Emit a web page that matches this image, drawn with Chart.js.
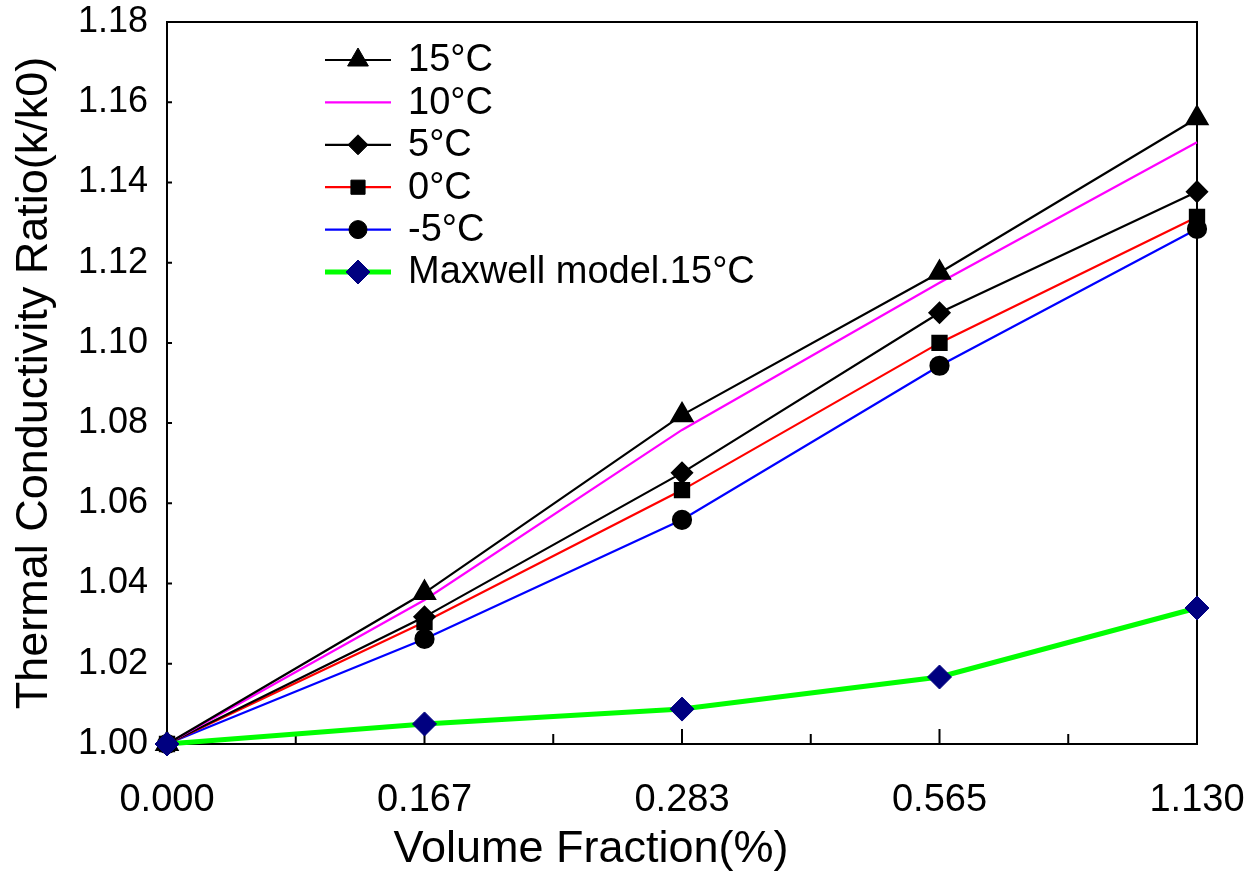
<!DOCTYPE html>
<html>
<head>
<meta charset="utf-8">
<script src="https://cdn.jsdelivr.net/npm/chart.js@4"></script>
<style>
html, body { margin: 0; padding: 0; background: #fff; }
#wrap { width: 1249px; height: 879px; }
</style>
</head>
<body>
<div id="wrap"><canvas id="chart1"></canvas></div>
<script>
const fractions = ['0.000', '0.167', '0.283', '0.565', '1.130'];
const t15 = [1.000, 1.0377, 1.0820, 1.1175, 1.1560];
const t10 = [1.000, 1.0359, 1.0783, 1.1150, 1.1500];
const t5 = [1.000, 1.0317, 1.0676, 1.1075, 1.1377];
const t0 = [1.000, 1.0304, 1.0633, 1.1000, 1.1314];
const tm5 = [1.000, 1.0262, 1.0559, 1.0943, 1.1284];
const maxwell = [1.000, 1.0050, 1.0087, 1.0167, 1.0339];
const xTitle = 'Volume Fraction(%)';

const FONT = "'Liberation Sans', Arial, Helvetica, sans-serif";

const data1 = {
  labels: fractions,
  datasets: [
    { label: '15°C', data: t15, borderColor: '#000', backgroundColor: '#000', borderWidth: 2.2,
      pointStyle: 'triangle', pointRadius: 12, order: 1 },
    { label: '10°C', data: t10, borderColor: '#ff00ff', backgroundColor: '#ff00ff', borderWidth: 2.2,
      pointRadius: 0, order: 2 },
    { label: '5°C', data: t5, borderColor: '#000', backgroundColor: '#000', borderWidth: 2.2,
      pointStyle: 'rectRot', pointRadius: 10, order: 3 },
    { label: '0°C', data: t0, borderColor: '#ff0000', backgroundColor: '#000', pointBorderColor: '#000', borderWidth: 2.2,
      pointStyle: 'rect', pointRadius: 10, order: 4 },
    { label: '-5°C', data: tm5, borderColor: '#0000ff', backgroundColor: '#000', pointBorderColor: '#000', borderWidth: 2.2,
      pointStyle: 'circle', pointRadius: 9, order: 5 },
    { label: 'Maxwell model.15°C', data: maxwell, borderColor: '#00ff00', backgroundColor: '#000080', pointBorderColor: '#000080', borderWidth: 5,
      pointStyle: 'rectRot', pointRadius: 12, pointBorderWidth: 1, order: 0 }
  ]
};
data1.datasets.forEach(d => { d.clip = false; d.fill = false; d.tension = 0; });

// box round the plot, inward tick marks, legend and x title (sits left of centre)
const frame = {
  id: 'frame',
  beforeDatasetsDraw(chart) {
    const {ctx, chartArea: a, scales: {x, y}} = chart;
    ctx.save();
    ctx.strokeStyle = '#000';
    ctx.lineWidth = 2;
    ctx.strokeRect(a.left, a.top, a.right - a.left, a.bottom - a.top);
    ctx.beginPath();
    for (let i = 0; i < fractions.length; i++) {
      const px = x.getPixelForValue(i);
      ctx.moveTo(px, a.bottom); ctx.lineTo(px, a.bottom - 15);
      if (i < fractions.length - 1) {
        const mx = (px + x.getPixelForValue(i + 1)) / 2;
        ctx.moveTo(mx, a.bottom); ctx.lineTo(mx, a.bottom - 10);
      }
    }
    y.ticks.forEach(t => {
      const py = y.getPixelForValue(t.value);
      ctx.moveTo(a.left, py); ctx.lineTo(a.left + 5, py);
    });
    ctx.stroke();
    ctx.restore();
  },
  afterDraw(chart) {
    const {ctx, chartArea: a} = chart;
    const x0 = a.left + 158, y0 = a.top + 38, rowH = 42.4;
    ctx.save();
    ctx.font = '38px ' + FONT;
    ctx.textBaseline = 'middle';
    ctx.fillStyle = '#000';
    chart.data.datasets.forEach((d, i) => {
      const yy = y0 + i * rowH;
      ctx.strokeStyle = d.borderColor;
      ctx.lineWidth = d.borderWidth;
      ctx.beginPath(); ctx.moveTo(x0, yy); ctx.lineTo(x0 + 66, yy); ctx.stroke();
      if (d.pointRadius > 0 && Chart.helpers && Chart.helpers.drawPoint) {
        ctx.fillStyle = d.backgroundColor;
        ctx.strokeStyle = d.pointBorderColor || d.borderColor;
        ctx.lineWidth = d.pointBorderWidth || 1;
        Chart.helpers.drawPoint(ctx, {pointStyle: d.pointStyle, radius: d.pointRadius, rotation: 0, borderWidth: ctx.lineWidth}, x0 + 33, yy);
      }
      ctx.fillStyle = '#000';
      ctx.fillText(d.label, x0 + 83, yy + 1);
    });
    ctx.font = '45px ' + FONT;
    ctx.textAlign = 'center';
    ctx.fillText(xTitle, a.left + 424, a.bottom + 106);
    ctx.restore();
  }
};

const config1 = {
  type: 'line',
  data: data1,
  plugins: [frame],
  options: {
    responsive: true,
    maintainAspectRatio: false,
    animation: false,
    layout: { autoPadding: false, padding: { top: 22, right: 52, left: 0, bottom: 0 } },
    plugins: {
      legend: { display: false },
      tooltip: { enabled: false }
    },
    scales: {
      x: {
        type: 'category',
        offset: false,
        grid: { display: false },
        border: { display: false },
        ticks: { color: '#000', font: { family: FONT, size: 38 }, padding: 26, maxRotation: 0, autoSkip: false },
        title: { display: false, text: xTitle },
        afterFit: (s) => { s.height = 135; s.paddingLeft = 0; s.paddingRight = 0; }
      },
      y: {
        min: 1.0,
        max: 1.18,
        grid: { display: false },
        border: { display: false },
        ticks: { stepSize: 0.02, color: '#000', font: { family: FONT, size: 36 }, padding: 11,
          callback: (v) => v.toFixed(2) },
        title: { display: true, text: 'Thermal Conductivity Ratio(k/k0)', color: '#000', font: { family: FONT, size: 45 }, padding: { top: 8, bottom: 0 } },
        afterFit: (s) => { s.width = 167; s.paddingTop = 0; s.paddingBottom = 0; }
      }
    }
  }
};

const chart1 = new Chart(document.getElementById('chart1'), config1);
</script>
</body>
</html>
